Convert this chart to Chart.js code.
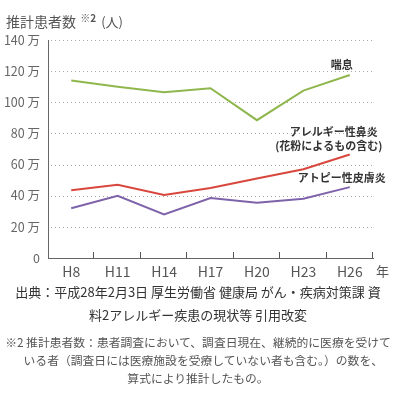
<!DOCTYPE html>
<html>
<head>
<meta charset="utf-8">
<script src="https://cdn.jsdelivr.net/npm/chart.js@4"></script>
<style>
    html, body { margin: 0; padding: 0; background: #fff; }
    body { width: 396px; height: 396px; position: relative; overflow: hidden; font-family: "Noto Sans CJK JP", sans-serif; }
    #wrap { position: absolute; left: 0; top: 0; width: 396px; height: 285px; }
    #title { position: absolute; left: 6px; top: 10px; font-size: 14px; color: #555; white-space: nowrap; }
    #title .mark { font-size: 10px; font-weight: bold; vertical-align: 5px; margin-left: 1px; }
    #title .unit { font-size: 13px; margin-left: 2px; }
    #source { position: absolute; left: 0; top: 280px; width: 396px; text-align: center; font-size: 13px; line-height: 23px; color: #333; white-space: nowrap; }
    #note { position: absolute; left: 0; top: 333px; width: 396px; text-align: center; font-size: 11.8px; line-height: 18px; color: #555; white-space: nowrap; }
</style>
</head>
<body>
<div id="wrap"><canvas id="chart"></canvas></div>
<div id="title">推計患者数 <span class="mark">※2</span> <span class="unit">(人)</span></div>
<div id="source">出典：平成28年2月3日 厚生労働省 健康局 がん・疾病対策課 資<br>料2アレルギー疾患の現状等 引用改変</div>
<div id="note">※2 推計患者数：患者調査において、調査日現在、継続的に医療を受けて<br>&nbsp;&nbsp;&nbsp;&nbsp;いる者（調査日には医療施設を受療していない者も含む。）の数を、<br>算式により推計したもの。</div>
<script>
const years = ["H8", "H11", "H14", "H17", "H20", "H23", "H26"];
// 単位: 万人
const asthma = [114, 110, 106.5, 109, 88.5, 107.5, 117.5];
const rhinitis = [43.5, 47, 40.5, 45, 51, 57, 66.5];
const atopic = [32, 40, 28, 38.5, 35.5, 38, 45.5];
const yTicks = [0, 20, 40, 60, 80, 100, 120, 140];

const FONT = '"Noto Sans CJK JP", sans-serif';

// 系列名 (最後の点の近くに表示)
const seriesLabels = [
    { lines: ["喘息"], dx: -8, dy: -10 },
    { lines: ["アレルギー性鼻炎", "(花粉によるもの含む)"], dx: -16, dy: -23 },
    { lines: ["アトピー性皮膚炎"], dx: -8, dy: -9 },
];

const extras = {
    id: "extras",
    beforeDatasetsDraw(chart) {
        // 点線の目盛線
        const { ctx, chartArea } = chart;
        const y = chart.scales.y;
        ctx.save();
        ctx.strokeStyle = "#a8a8a8";
        ctx.lineWidth = 1;
        ctx.setLineDash([1, 3]);
        yTicks.forEach((v) => {
            if (v === 0) return;
            const py = Math.round(y.getPixelForValue(v)) + 0.5;
            ctx.beginPath();
            ctx.moveTo(chartArea.left + 3, py);
            ctx.lineTo(chartArea.right, py);
            ctx.stroke();
        });
        ctx.restore();
    },
    afterDraw(chart) {
        const { ctx, chartArea } = chart;
        const n = years.length;
        const w = (chartArea.right - chartArea.left) / n;
        ctx.save();
        // x軸の目盛り (上向き)
        ctx.strokeStyle = "#555";
        ctx.lineWidth = 1;
        for (let i = 1; i <= n; i++) {
            const px = Math.round(chartArea.left + i * w) - 0.5;
            ctx.beginPath();
            ctx.moveTo(px, chartArea.bottom);
            ctx.lineTo(px, chartArea.bottom - 6);
            ctx.stroke();
        }
        // 年
        ctx.fillStyle = "#555";
        ctx.font = "13px " + FONT;
        ctx.textAlign = "left";
        ctx.textBaseline = "middle";
        ctx.fillText("年", chartArea.right + 3, chartArea.bottom + 13);
        // 系列名
        ctx.font = "bold 11px " + FONT;
        ctx.fillStyle = "#333";
        ctx.textAlign = "center";
        seriesLabels.forEach((lab, di) => {
            const pts = chart.getDatasetMeta(di).data;
            const last = pts[pts.length - 1];
            lab.lines.forEach((t, li) => {
                ctx.fillText(t, last.x + lab.dx + (li ? -5 : 0), last.y + lab.dy + li * 14);
            });
        });
        ctx.restore();
    },
};

new Chart(document.getElementById("chart"), {
    type: "line",
    data: {
        labels: years,
        datasets: [
            { label: "喘息", data: asthma, borderColor: "#8fb74e" },
            { label: "アレルギー性鼻炎", data: rhinitis, borderColor: "#d8473d" },
            { label: "アトピー性皮膚炎", data: atopic, borderColor: "#7e63aa" },
        ],
    },
    options: {
        responsive: true,
        maintainAspectRatio: false,
        animation: false,
        events: [],
        elements: {
            line: { borderWidth: 2, tension: 0 },
            point: { radius: 0 },
        },
        layout: { padding: { left: 0, right: 23, top: 40, bottom: 0 } },
        plugins: {
            legend: { display: false },
            tooltip: { enabled: false },
        },
        scales: {
            x: {
                offset: true,
                afterFit: (s) => { s.height = 27; },
                grid: { display: false, drawTicks: false },
                border: { display: true, color: "#666", width: 1 },
                ticks: {
                    color: "#555",
                    padding: 5,
                    maxRotation: 0,
                    font: { size: 14, family: FONT },
                },
            },
            y: {
                min: 0,
                max: 140,
                afterFit: (s) => { s.width = 48; },
                afterBuildTicks: (s) => { s.ticks = yTicks.map((v) => ({ value: v })); },
                grid: { display: false, drawTicks: false },
                border: { display: true, color: "#666", width: 1 },
                ticks: {
                    color: "#666",
                    padding: 8,
                    font: { size: 12.5, family: FONT },
                    callback: (v) => (v === 0 ? "0" : v + " 万"),
                },
            },
        },
    },
    plugins: [extras],
});
</script>
</body>
</html>
